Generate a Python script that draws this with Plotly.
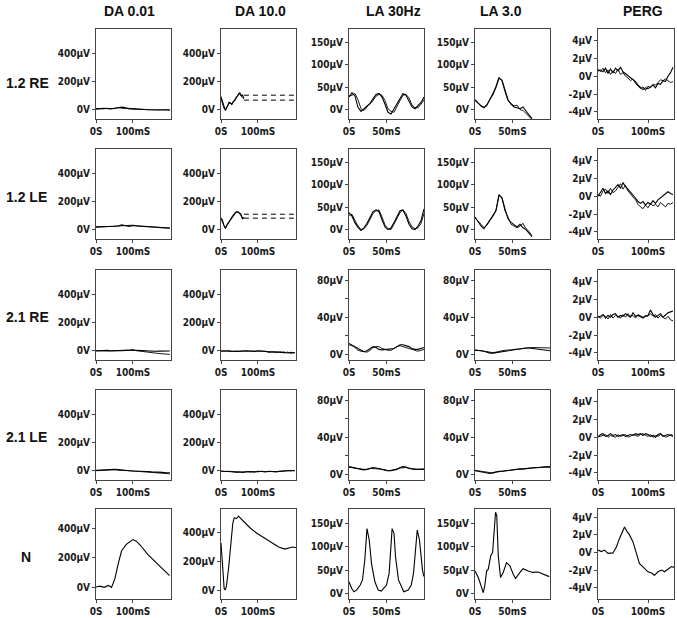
import plotly.graph_objects as go

# column / row headers
COLUMNS = ["DA 0.01", "DA 10.0", "LA 30Hz", "LA 3.0", "PERG"]
ROWS = ["1.2 RE", "1.2 LE", "2.1 RE", "2.1 LE", "N"]

# sample times (ms)
T_DA = [0, 10, 20, 30, 40, 50, 60, 70, 80, 90, 100, 110, 120, 130, 140, 150, 160, 170, 180, 190, 200]
T_LA = [0, 4, 8, 12, 16, 20, 24, 28, 32, 36, 40, 44, 48, 52, 56, 60, 64, 68, 72, 76, 80, 84, 88, 92, 96, 100]
T_LA3 = [0, 4, 8, 12, 16, 20, 24, 28, 32, 36, 40, 44, 48, 52, 56, 60, 64, 68, 72, 76]
T_PERG = [0, 5, 10, 15, 20, 25, 30, 35, 40, 45, 50, 55, 60, 65, 70, 75, 80, 85, 90, 95, 100,
          105, 110, 115, 120, 125, 130, 135, 140, 145, 150]

# DA 0.01 (µV), two recordings per eye
DA001_R1_A = [10, 8, 12, 10, 8, 12, 14, 20, 15, 8, 10, 6, 4, 3, 2, 1, 2, 1, 0, 0, 0]
DA001_R1_B = [6, 10, 8, 12, 10, 10, 16, 12, 10, 12, 6, 4, 5, 2, 3, 2, 0, 1, 2, 0, 1]
DA001_R2_A = [22, 22, 24, 24, 25, 26, 28, 36, 30, 26, 32, 30, 28, 26, 24, 22, 20, 18, 16, 15, 14]
DA001_R2_B = [20, 21, 22, 23, 24, 26, 30, 32, 28, 30, 34, 28, 27, 25, 22, 21, 19, 17, 15, 13, 12]
DA001_R3_A = [0, 2, 0, 4, 2, 0, 3, 2, 4, 6, 8, 4, 2, 0, 0, -2, -2, -1, 0, 0, 0]
DA001_R3_B = [2, 0, 3, 1, 0, 2, 4, 2, 6, 4, 6, 2, -2, -4, -8, -12, -14, -18, -20, -22, -24]
DA001_R4_A = [4, 6, 8, 10, 8, 12, 10, 6, 4, 2, 0, 0, -2, -2, -4, -6, -6, -8, -10, -12, -12]
DA001_R4_B = [2, 4, 6, 6, 8, 8, 6, 6, 2, 2, 0, -2, -2, -4, -4, -6, -8, -10, -14, -16, -20]

# DA 10.0
T_DA10_R1 = [0, 4, 8, 12, 17, 22, 26, 29, 33, 38, 42, 45, 48, 51, 55, 58, 62]
DA10_R1_A = [95, 60, 20, -4, 25, 55, 48, 40, 60, 70, 90, 107, 112, 122, 100, 107, 85]
DA10_R1_B = [80, 50, 10, 5, 30, 45, 52, 36, 55, 80, 95, 100, 118, 110, 95, 88, 78]
T_DA10_R2 = [0, 4, 8, 12, 17, 22, 26, 30, 35, 40, 45, 50, 54, 58, 62]
DA10_R2_A = [85, 70, 30, 15, 40, 58, 72, 90, 110, 124, 130, 122, 113, 80, 90]
DA10_R2_B = [80, 60, 40, 10, 35, 62, 80, 95, 115, 128, 126, 118, 100, 85, 84]
T_DA10_DASH = [62, 203]
DA10_R1_DASH_HI = [105, 105]
DA10_R1_DASH_LO = [70, 70]
DA10_R2_DASH_HI = [112, 112]
DA10_R2_DASH_LO = [84, 84]
DA10_R3_A = [0, -2, 2, 0, -4, 0, -2, 2, 0, -4, 2, 0, -6, -4, -8, -6, -10, -8, -14, -10, -14]
DA10_R3_B = [-2, 2, -2, -4, 0, -4, 2, -2, 0, 0, -2, -4, -2, -10, -4, -12, -6, -14, -8, -16, -10]
DA10_R4_A = [0, -4, -2, -6, -8, -6, -10, -6, -4, -8, -2, -4, -6, -2, -4, -6, 0, -2, 2, 4, 2]
DA10_R4_B = [-2, -2, -6, -4, -6, -10, -6, -4, -8, -4, -6, -2, -4, -4, -2, -2, -4, 2, 0, 2, 4]

# LA 30Hz flicker
LA30_R1_A = [28, 38, 30, 5, -4, 2, 8, 14, 24, 34, 36, 28, 12, -6, -10, 2, 14, 26, 36, 32, 18, 6, 2, 8, 16, 28]
LA30_R1_B = [30, 32, 36, 22, 2, -2, 6, 12, 20, 30, 34, 32, 20, 2, -4, -6, 8, 20, 32, 34, 26, 10, 4, 4, 12, 22]
LA30_R2_A = [38, 30, 15, 5, -2, 4, 14, 28, 40, 44, 40, 22, 6, 0, 4, 16, 30, 42, 44, 30, 12, 2, 0, 8, 20, 46]
LA30_R2_B = [32, 34, 20, 8, 0, 2, 10, 24, 36, 42, 44, 28, 10, 2, 0, 12, 26, 38, 44, 36, 18, 6, 2, 4, 14, 36]
LA30_R3_A = [11.5, 10, 8, 6, 4, 2.5, 3.5, 6, 8, 7, 5, 4.5, 5, 5, 5.5, 6, 8, 10, 10, 9, 8, 6, 5, 5, 6, 7]
LA30_R3_B = [10, 9, 7, 4, 3, 2.5, 2, 4, 7, 8, 8, 6, 5, 4, 4, 6, 8, 9, 8, 7, 6, 5, 4, 3, 4, 5]
LA30_R4_A = [8, 7.5, 7, 6, 5, 4.5, 5, 6, 7, 6.5, 5.5, 5, 4.5, 3.5, 3.5, 4, 5, 7, 8, 7.5, 6, 5.5, 5, 5, 5, 5]
LA30_R4_B = [7, 7, 6, 6, 5.5, 5, 5, 6, 6, 6, 5.5, 5, 4, 3.5, 4, 4.5, 5.5, 6.5, 7, 7, 6.5, 5.5, 5, 5, 5, 5.5]

# LA 3.0
LA3_R1_A = [22, 15, 8, 4, 10, 24, 34, 50, 70, 66, 44, 22, 12, 6, 4, 2, 6, -4, -12, -20]
LA3_R1_B = [20, 14, 9, 5, 12, 22, 36, 52, 72, 64, 40, 20, 14, 8, 10, 0, -2, -8, -16, -22]
LA3_R2_A = [28, 18, 8, 2, 12, 22, 32, 42, 78, 70, 46, 24, 16, 10, 6, 12, 4, 0, -8, -16]
LA3_R2_B = [26, 20, 12, 4, 10, 20, 30, 44, 76, 72, 42, 28, 12, 8, 4, 8, 14, 2, -4, -14]
LA3_R3_A = [4, 4, 3.5, 3, 2, 1, 1, 1.5, 2, 3, 3.5, 4, 4, 4.5, 5, 5.5, 6, 6.5, 6.5, 6, 5.5, 5, 4.5, 4, 4, 3.5]
LA3_R3_B = [4.5, 4, 3.5, 3, 2, 1.5, 1.5, 2, 3, 3.5, 4, 4, 4.5, 5, 5, 5.5, 6, 6.5, 7, 7, 7, 7, 7, 6.5, 6.5, 6.5]
LA3_R4_A = [3.5, 3, 2.5, 2, 1, 0.5, 1.5, 2.5, 3, 3, 3.5, 4, 4.5, 4.5, 5, 5.5, 5.5, 6, 6, 6.5, 7, 7, 7.5, 7.5, 7.5, 7.5]
LA3_R4_B = [4, 3.5, 3, 2, 1.5, 1, 1, 2, 2.5, 3, 3.5, 4, 4, 4.5, 5, 5, 5.5, 6, 6.5, 6.5, 6.5, 7, 7, 7.5, 8, 8]

# PERG (µV)
PERG_R1_A = [0.6, 0.7, 0.5, 0.9, 0.3, 0.8, 0.4, 0.9, 0.6, 1.0, 0.5, 0.3, 0.1, -0.2, -0.4, -0.6, -1.0, -1.2,
             -1.5, -1.3, -1.4, -1.2, -1.0, -1.3, -0.8, -0.9, -0.5, -0.6, 0.0, 0.4, 1.0]
PERG_R1_B = [0.8, 0.5, 0.9, 0.4, 0.7, 0.2, 0.6, 0.3, 0.8, 0.2, 0.4, 0.0, -0.2, -0.5, -0.3, -0.8, -1.1, -1.4,
             -1.2, -1.6, -1.1, -1.3, -0.9, -1.0, -0.7, -0.4, -0.5, -0.3, -0.5, -0.7, -0.6]
PERG_R2_A = [0.0, 0.5, 0.9, 0.3, 0.6, 0.2, 0.7, 1.0, 1.3, 0.9, 1.5, 1.1, 0.8, 0.5, 0.2, -0.2, -0.6, -0.8,
             -0.6, -1.0, -0.7, -0.9, -0.5, -0.8, -0.4, -0.2, 0.0, 0.3, 0.5, 0.3, 0.2]
PERG_R2_B = [0.2, 0.0, 0.6, 0.8, 0.3, 0.9, 0.4, 0.6, 1.0, 1.4, 0.8, 1.2, 0.6, 0.2, -0.1, -0.4, -0.9, -1.2,
             -1.4, -1.0, -1.3, -0.8, -1.1, -0.9, -1.2, -0.7, -1.0, -1.2, -0.8, -0.9, -0.7]
PERG_R3_A = [0.0, 0.1, 0.3, -0.1, 0.2, 0.0, 0.3, 0.4, 0.0, 0.2, 0.1, 0.4, 0.2, 0.0, 0.5, 0.1, 0.2, 0.0,
             -0.1, 0.1, 0.2, 0.8, 0.3, 0.0, 0.2, 0.4, 0.0, 0.3, 0.5, 0.6, 0.7]
PERG_R3_B = [0.1, -0.1, 0.2, 0.1, -0.2, 0.3, -0.1, 0.2, 0.1, -0.1, 0.3, 0.0, 0.4, 0.1, 0.2, -0.1, 0.3, 0.1,
             0.0, 0.2, 0.1, 0.4, 0.1, 0.3, -0.1, 0.2, 0.0, -0.2, 0.1, -0.3, -0.4]
PERG_R4_A = [0.0, 0.3, 0.4, 0.1, 0.2, 0.4, 0.2, 0.3, 0.1, 0.2, 0.3, 0.1, 0.2, 0.3, 0.2, 0.4, 0.3, 0.4,
             0.2, 0.4, 0.3, 0.1, 0.2, 0.0, 0.3, 0.4, 0.1, 0.2, 0.3, 0.2, 0.1]
PERG_R4_B = [0.1, 0.1, 0.2, 0.3, 0.0, 0.2, 0.1, 0.0, 0.3, 0.1, 0.2, 0.3, 0.0, 0.1, 0.3, 0.2, 0.1, 0.3,
             0.4, 0.2, 0.1, 0.3, 0.0, 0.2, 0.1, 0.3, 0.2, 0.0, 0.1, 0.3, 0.2]

# normal reference (row N)
T_N_DA001 = [0, 11, 22, 34, 42, 51, 60, 69, 82, 96, 100, 109, 122, 140, 162, 184, 199]
N_DA001 = [0, 6, -2, 11, -2, 55, 155, 244, 289, 315, 322, 311, 278, 222, 167, 111, 78]
T_N_DA10 = [0, 4, 8.5, 11, 14.5, 21, 27, 32, 36, 42, 47, 56, 66, 79, 96, 117, 138, 156, 173, 185, 194, 203]
N_DA10 = [330, 140, 12, 0, 23, 165, 353, 470, 506, 500, 518, 494, 470, 435, 400, 365, 330, 301, 287, 294, 301, 296]
T_N_LA30 = [0, 3.5, 6.6, 10, 15, 18, 21, 23.5, 24, 27, 30, 34.5, 39, 43, 50, 53.5, 56, 57.5, 60, 62, 66,
            73, 79, 83, 86, 89, 91, 94, 98, 100]
N_LA30 = [25, 11, 3.6, 7, 18, 29, 71, 136, 139, 114, 64, 25, 7, 5, 18, 43, 93, 139, 129, 79, 29,
          3.6, 7, 18, 43, 107, 136, 114, 50, 36]
T_N_LA3 = [0, 4.4, 9, 11, 13, 15.5, 17.7, 21, 23.5, 25, 27.4, 29, 31, 34, 37.6, 42, 46.5, 51, 54, 60,
           64, 71, 77, 84, 93, 99]
N_LA3 = [48, 34, 12, 1.4, 16, 48, 52, 81, 88, 124, 174, 167, 81, 34, 45, 66, 59, 41, 32, 45,
         53, 48, 45, 46, 41, 36]
T_N_PERG = [0, 7, 13, 20, 30, 37, 43, 50, 53, 58, 63, 70, 77, 83, 90, 100, 107, 113, 120, 127, 133,
            140, 147, 152]
N_PERG = [0.27, 0.1, 0.27, -0.1, -0.05, 0.65, 1.6, 2.4, 2.9, 2.4, 2.0, 1.2, -0.3, -1.27, -1.65, -2.2,
          -2.35, -2.6, -2.2, -2.0, -2.2, -1.85, -1.6, -1.7]

# tick values / labels
DA_YTICKS = [0, 200, 400]
DA_YTEXT = ["0V", "200µV", "400µV"]
LA_YTICKS = [0, 50, 100, 150]
LA_YTEXT = ["0V", "50µV", "100µV", "150µV"]
LA_SMALL_YTICKS = [0, 20, 40, 60, 80]
LA_SMALL_YTEXT = ["0V", "", "40µV", "", "80µV"]
PERG_YTICKS = [-4, -2, 0, 2, 4]
PERG_YTEXT = ["-4µV", "-2µV", "0V", "2µV", "4µV"]
DA_XTICKS, DA_XTEXT = [0, 100], ["0S", "100mS"]
LA_XTICKS, LA_XTEXT = [0, 50], ["0S", "50mS"]
PERG_XTICKS, PERG_XTEXT = [0, 100], ["0S", "100mS"]

W, H = 677, 618
COL_LEFT = [96, 221, 349, 475, 598]
ROW_TOP = [29, 149, 270, 390, 509]
PW, PH = 75, 90

TICKFONT = dict(family="Liberation Sans Narrow, DejaVu Sans Condensed, Arial Narrow, sans-serif",
                size=10, color="#1a1a1a", weight="bold")

fig = go.Figure()


def axis_names(r, c):
    i = r * 5 + c + 1
    s = "" if i == 1 else str(i)
    return "x" + s, "y" + s, "xaxis" + s, "yaxis" + s


def add_line(r, c, x, y, width=1.1, dash=None):
    xa, ya, _, _ = axis_names(r, c)
    fig.add_trace(go.Scatter(x=x, y=y, mode="lines", xaxis=xa, yaxis=ya,
                             line=dict(color="black", width=width, dash=dash),
                             showlegend=False, hoverinfo="skip"))


# traces
da001 = [(DA001_R1_A, DA001_R1_B), (DA001_R2_A, DA001_R2_B), (DA001_R3_A, DA001_R3_B), (DA001_R4_A, DA001_R4_B)]
for r, (a, b) in enumerate(da001):
    add_line(r, 0, T_DA, a)
    add_line(r, 0, T_DA, b, width=0.9)

add_line(0, 1, T_DA10_R1, DA10_R1_A)
add_line(0, 1, T_DA10_R1, DA10_R1_B, width=0.9)
add_line(0, 1, T_DA10_DASH, DA10_R1_DASH_HI, width=1, dash="5px,4px")
add_line(0, 1, T_DA10_DASH, DA10_R1_DASH_LO, width=1, dash="5px,4px")
add_line(1, 1, T_DA10_R2, DA10_R2_A)
add_line(1, 1, T_DA10_R2, DA10_R2_B, width=0.9)
add_line(1, 1, T_DA10_DASH, DA10_R2_DASH_HI, width=1, dash="5px,4px")
add_line(1, 1, T_DA10_DASH, DA10_R2_DASH_LO, width=1, dash="5px,4px")
for r, (a, b) in [(2, (DA10_R3_A, DA10_R3_B)), (3, (DA10_R4_A, DA10_R4_B))]:
    add_line(r, 1, T_DA, a)
    add_line(r, 1, T_DA, b, width=0.9)

la30 = [(LA30_R1_A, LA30_R1_B), (LA30_R2_A, LA30_R2_B), (LA30_R3_A, LA30_R3_B), (LA30_R4_A, LA30_R4_B)]
for r, (a, b) in enumerate(la30):
    add_line(r, 2, T_LA, a)
    add_line(r, 2, T_LA, b, width=0.9)

for r, (a, b) in enumerate([(LA3_R1_A, LA3_R1_B), (LA3_R2_A, LA3_R2_B)]):
    add_line(r, 3, T_LA3, a)
    add_line(r, 3, T_LA3, b, width=0.9)
for r, (a, b) in [(2, (LA3_R3_A, LA3_R3_B)), (3, (LA3_R4_A, LA3_R4_B))]:
    add_line(r, 3, T_LA, a)
    add_line(r, 3, T_LA, b, width=0.9)

perg = [(PERG_R1_A, PERG_R1_B), (PERG_R2_A, PERG_R2_B), (PERG_R3_A, PERG_R3_B), (PERG_R4_A, PERG_R4_B)]
for r, (a, b) in enumerate(perg):
    add_line(r, 4, T_PERG, a)
    add_line(r, 4, T_PERG, b, width=0.9)

add_line(4, 0, T_N_DA001, N_DA001)
add_line(4, 1, T_N_DA10, N_DA10)
add_line(4, 2, T_N_LA30, N_LA30)
add_line(4, 3, T_N_LA3, N_LA3)
add_line(4, 4, T_N_PERG, N_PERG)

# axes
layout = {}
for r in range(5):
    for c in range(5):
        xa, ya, xk, yk = axis_names(r, c)
        left, top = COL_LEFT[c], ROW_TOP[r]
        pw = PW + (1 if c == 4 else 0)
        if c < 2:
            xt, xtt, xr = DA_XTICKS, DA_XTEXT, [0, 203]
            yt, ytt = DA_YTICKS, DA_YTEXT
            if r < 4:
                yr = [-64, 575]
            else:
                yr = [-81, 529] if c == 0 else [-63, 568]
        elif c < 4:
            xt, xtt, xr = LA_XTICKS, LA_XTEXT, [0, 100]
            if r in (2, 3):
                yt, ytt, yr = LA_SMALL_YTICKS, LA_SMALL_YTEXT, [-6.5, 91]
            elif r < 2:
                yt, ytt, yr = LA_YTICKS, LA_YTEXT, [-21, 180]
            else:
                yt, ytt, yr = LA_YTICKS, LA_YTEXT, [-12, 181]
        else:
            xt, xtt, xr = PERG_XTICKS, PERG_XTEXT, [0, 152]
            yt, ytt = PERG_YTICKS, PERG_YTEXT
            yr = [-4.8, 5.3] if r < 4 else [-5.3, 4.95]
        common = dict(showline=True, mirror=True, linecolor="#444", linewidth=1,
                      showgrid=False, zeroline=False, ticks="outside", ticklen=3,
                      tickcolor="#444", tickwidth=1, tickfont=TICKFONT, fixedrange=True,
                      automargin=False)
        layout[xk] = dict(domain=[left / W, (left + pw) / W], anchor=ya, range=xr,
                          tickvals=xt, ticktext=xtt, **common)
        layout[yk] = dict(domain=[1 - (top + PH) / H, 1 - top / H], anchor=xa, range=yr,
                          tickvals=yt, ticktext=ytt, **common)

annotations = []
TITLE_X = [129, 260, 393, 501, 643]
for c, name in enumerate(COLUMNS):
    annotations.append(dict(text="<b>%s</b>" % name, x=TITLE_X[c] / W, y=1 - 11 / H,
                            xref="paper", yref="paper", showarrow=False,
                            xanchor="center", yanchor="middle",
                            font=dict(family="Liberation Sans, Arial, sans-serif", size=14, color="#111")))
LABEL_Y = [83, 197, 317, 437, 557]
for r, name in enumerate(ROWS):
    xpos = 4 if r < 4 else 19
    annotations.append(dict(text="<b>%s</b>" % name, x=xpos / W, y=1 - LABEL_Y[r] / H,
                            xref="paper", yref="paper", showarrow=False,
                            xanchor="left", yanchor="middle",
                            font=dict(family="Liberation Sans, Arial, sans-serif", size=14, color="#111")))

fig.update_layout(width=W, height=H, margin=dict(l=0, r=0, t=0, b=0),
                  paper_bgcolor="white", plot_bgcolor="white",
                  annotations=annotations, **layout)

# drop the default page margin so the figure sits at the window's corner
fig.write_html("out.html", config={"displayModeBar": False},
               post_script="document.body.style.margin='0';")
